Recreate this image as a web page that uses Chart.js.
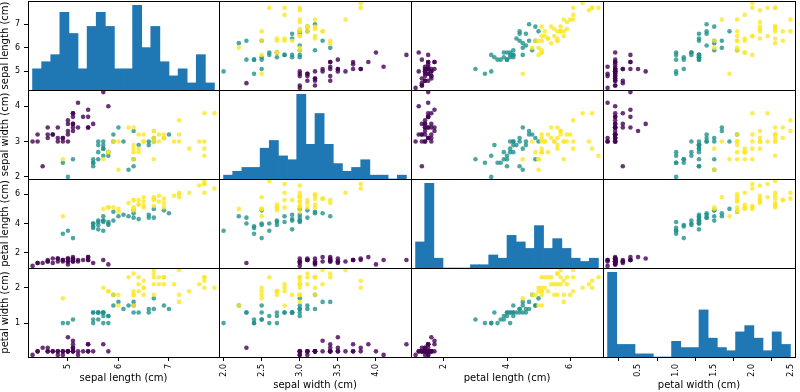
<!DOCTYPE html>
<html>
<head>
<meta charset="utf-8">
<script src="https://cdn.jsdelivr.net/npm/chart.js@4.4.1/dist/chart.umd.min.js"></script>
<style>
  html, body { margin: 0; padding: 0; background: #fff; }
  #grid { position: relative; width: 800px; height: 392px; overflow: hidden; }
  #grid canvas { position: absolute; }
</style>
</head>
<body>
<div id="grid"></div>
<script>
// iris training split (112 samples)
const featureNames = ['sepal length (cm)', 'sepal width (cm)', 'petal length (cm)', 'petal width (cm)'];

const sepalLength = [
  5.1, 4.9, 4.7, 4.6, 5.0, 5.4, 4.6, 4.9, 5.4, 4.8, 4.8, 4.3, 5.8, 5.7, 5.1, 5.1, 5.4, 5.1, 5.1, 5.0,
  5.2, 4.7, 4.8, 5.4, 5.2, 4.9, 5.0, 5.5, 4.4, 5.1, 4.5, 4.4, 5.0, 5.1, 4.6, 5.3, 5.0,
  7.0, 6.9, 5.5, 5.7, 6.3, 4.9, 6.6, 5.0, 5.9, 5.6, 6.7, 5.8, 6.2, 5.6, 5.9, 6.3, 6.4, 6.6, 6.7, 5.7,
  5.5, 5.5, 5.8, 6.0, 6.3, 5.6, 5.5, 6.1, 5.8, 5.6, 5.7, 5.7, 5.1, 5.7,
  5.8, 7.1, 6.3, 6.5, 7.6, 4.9, 6.7, 7.2, 6.5, 6.4, 6.8, 5.7, 6.4, 6.5, 7.7, 7.7, 6.0, 6.9, 7.7, 6.3,
  6.7, 7.2, 6.4, 7.2, 7.4, 7.9, 6.3, 7.7, 6.3, 6.0, 6.9, 6.7, 6.9, 5.8, 6.8, 6.7, 6.7, 6.3, 6.5, 6.2, 5.9
];
const sepalWidth = [
  3.5, 3.0, 3.2, 3.1, 3.6, 3.9, 3.4, 3.1, 3.7, 3.4, 3.0, 3.0, 4.0, 4.4, 3.5, 3.8, 3.4, 3.7, 3.3, 3.0,
  3.4, 3.2, 3.1, 3.4, 4.1, 3.1, 3.2, 3.5, 3.0, 3.4, 2.3, 3.2, 3.5, 3.8, 3.2, 3.7, 3.3,
  3.2, 3.1, 2.3, 2.8, 3.3, 2.4, 2.9, 2.0, 3.0, 2.9, 3.1, 2.7, 2.2, 2.5, 3.2, 2.5, 2.9, 3.0, 3.0, 2.6,
  2.4, 2.4, 2.7, 3.4, 2.3, 3.0, 2.5, 3.0, 2.6, 2.7, 3.0, 2.9, 2.5, 2.8,
  2.7, 3.0, 2.9, 3.0, 3.0, 2.5, 2.5, 3.6, 3.2, 2.7, 3.0, 2.5, 3.2, 3.0, 3.8, 2.6, 2.2, 3.2, 2.8, 2.7,
  3.3, 3.2, 2.8, 3.0, 2.8, 3.8, 2.8, 3.0, 3.4, 3.0, 3.1, 3.1, 3.1, 2.7, 3.2, 3.3, 3.0, 2.5, 3.0, 3.4, 3.0
];
const petalLength = [
  1.4, 1.4, 1.3, 1.5, 1.4, 1.7, 1.4, 1.5, 1.5, 1.6, 1.4, 1.1, 1.2, 1.5, 1.4, 1.5, 1.7, 1.5, 1.7, 1.6,
  1.4, 1.6, 1.6, 1.5, 1.5, 1.5, 1.2, 1.3, 1.3, 1.5, 1.3, 1.3, 1.6, 1.6, 1.4, 1.5, 1.4,
  4.7, 4.9, 4.0, 4.5, 4.7, 3.3, 4.6, 3.5, 4.2, 3.6, 4.4, 4.1, 4.5, 3.9, 4.8, 4.9, 4.3, 4.4, 5.0, 3.5,
  3.8, 3.7, 3.9, 4.5, 4.4, 4.1, 4.0, 4.6, 4.0, 4.2, 4.2, 4.2, 3.0, 4.1,
  5.1, 5.9, 5.6, 5.8, 6.6, 4.5, 5.8, 6.1, 5.1, 5.3, 5.5, 5.0, 5.3, 5.5, 6.7, 6.9, 5.0, 5.7, 6.7, 4.9,
  5.7, 6.0, 5.6, 5.8, 6.1, 6.4, 5.1, 6.1, 5.6, 4.8, 5.4, 5.6, 5.1, 5.1, 5.9, 5.7, 5.2, 5.0, 5.2, 5.4, 5.1
];
const petalWidth = [
  0.2, 0.2, 0.2, 0.2, 0.2, 0.4, 0.3, 0.1, 0.2, 0.2, 0.1, 0.1, 0.2, 0.4, 0.3, 0.3, 0.2, 0.4, 0.5, 0.2,
  0.2, 0.2, 0.2, 0.4, 0.1, 0.2, 0.2, 0.2, 0.2, 0.2, 0.3, 0.2, 0.6, 0.2, 0.2, 0.2, 0.2,
  1.4, 1.5, 1.3, 1.3, 1.6, 1.0, 1.3, 1.0, 1.5, 1.3, 1.4, 1.0, 1.5, 1.1, 1.8, 1.5, 1.3, 1.4, 1.7, 1.0,
  1.1, 1.0, 1.2, 1.6, 1.3, 1.3, 1.3, 1.4, 1.2, 1.3, 1.2, 1.3, 1.1, 1.3,
  1.9, 2.1, 1.8, 2.2, 2.1, 1.7, 1.8, 2.5, 2.0, 1.9, 2.1, 2.0, 2.3, 1.8, 2.2, 2.3, 1.5, 2.3, 2.0, 1.8,
  2.1, 1.8, 2.1, 1.6, 1.9, 2.0, 1.5, 2.3, 2.4, 1.8, 2.1, 2.4, 2.3, 1.9, 2.3, 2.5, 2.3, 1.9, 2.0, 2.3, 1.8
];
// class of each sample: 0 setosa, 1 versicolor, 2 virginica
const species = [].concat(Array(37).fill(0), Array(34).fill(1), Array(41).fill(2));

const xTickValues = [[5, 6, 7], [2.0, 2.5, 3.0, 3.5, 4.0], [2, 4, 6], [0.5, 1.0, 1.5, 2.0, 2.5]];
const yTickValues = [[5, 6, 7], [2, 3, 4], [2, 4, 6], [1, 2]];
const xTickDecimals = [0, 1, 0, 1];

const histBins = 20;
const rangePadding = 0.05;

const classColors = ['rgba(68,1,84,0.8)', 'rgba(33,145,140,0.8)', 'rgba(253,231,37,0.8)'];
const histColor = '#1f77b4';
const FONT = "'DejaVu Sans', sans-serif";

const features = [sepalLength, sepalWidth, petalLength, petalWidth];

// axis limits like pandas scatter_matrix: data range plus range_padding / 2 on each side
const limits = features.map(v => {
  const lo = Math.min(...v), hi = Math.max(...v);
  const ext = (hi - lo) * rangePadding / 2;
  return [lo - ext, hi + ext];
});

function histogram(values) {
  const lo = Math.min(...values), hi = Math.max(...values);
  const w = (hi - lo) / histBins;
  const counts = new Array(histBins).fill(0);
  values.forEach(v => {
    counts[Math.min(histBins - 1, Math.floor((v - lo) / w + 1e-9))]++;
  });
  return counts.map((n, i) => ({x: lo + (i + 0.5) * w, y: n}));
}

const framePlugin = {
  id: 'frame',
  afterDatasetsDraw(chart) {
    const {ctx, chartArea: a} = chart;
    ctx.save();
    ctx.strokeStyle = '#000';
    ctx.lineWidth = 1;
    ctx.strokeRect(a.left + 0.5, a.top + 0.5, a.right - a.left, a.bottom - a.top);
    ctx.restore();
  }
};

function xScale(col, row) {
  const show = row === 3;
  // the xlabel sits below the tick labels, so longer labels ("2.0") push it down
  const titleGap = xTickDecimals[col] ? 1 : 8;
  return {
    type: 'linear',
    position: 'bottom',
    min: limits[col][0],
    max: limits[col][1],
    offset: false,
    display: show,
    afterBuildTicks: s => { s.ticks = xTickValues[col].map(v => ({value: v})); },
    afterFit: s => {
      if (!show) return;
      s.height = 35; s.paddingLeft = 0; s.paddingRight = 0;
    },
    ticks: {
      includeBounds: false,
      autoSkip: false,
      minRotation: 90,
      maxRotation: 90,
      padding: 3,
      color: '#000',
      font: {family: FONT, size: 8},
      callback: v => Number(v).toFixed(xTickDecimals[col])
    },
    grid: {drawOnChartArea: false, tickLength: 4, color: '#000'},
    border: {display: false},
    title: {
      display: show,
      text: featureNames[col],
      color: '#000',
      font: {family: FONT, size: 10, lineHeight: 1.2},
      padding: {top: 0, bottom: titleGap}
    }
  };
}

function yScale(row, col) {
  const show = col === 0;
  return {
    type: 'linear',
    position: 'left',
    min: limits[row][0],
    max: limits[row][1],
    display: show,
    afterBuildTicks: s => { s.ticks = yTickValues[row].map(v => ({value: v})); },
    afterFit: s => {
      if (!show) return;
      s.width = 28; s.paddingTop = 0; s.paddingBottom = 0;
    },
    ticks: {
      includeBounds: false,
      autoSkip: false,
      padding: 4,
      color: '#000',
      font: {family: FONT, size: 8},
      callback: v => String(v)
    },
    grid: {drawOnChartArea: false, tickLength: 4, color: '#000'},
    border: {display: false},
    title: {
      display: show,
      text: featureNames[row],
      color: '#000',
      font: {family: FONT, size: 10, lineHeight: 1},
      padding: {top: 0, bottom: 0}
    }
  };
}

const colEdges = [28, 219, 411, 603, 795];
const rowEdges = [1, 90, 179, 268, 357];
const grid = document.getElementById('grid');

for (let r = 0; r < 4; r++) {
  for (let c = 0; c < 4; c++) {
    const left = colEdges[c] - (c === 0 ? 28 : 0);
    const top = rowEdges[r];
    const w = colEdges[c + 1] - colEdges[c] + 1 + (c === 0 ? 28 : 0);
    const h = rowEdges[r + 1] - rowEdges[r] + (r === 3 ? 35 : 1);

    const canvas = document.createElement('canvas');
    canvas.width = w;
    canvas.height = h;
    canvas.style.left = left + 'px';
    canvas.style.top = top + 'px';
    canvas.style.width = w + 'px';
    canvas.style.height = h + 'px';
    grid.appendChild(canvas);

    let config;
    if (r === c) {
      const bins = histogram(features[c]);
      const maxCount = Math.max(...bins.map(b => b.y));
      const scales = {
        x: xScale(c, r),
        yc: {type: 'linear', min: 0, max: maxCount * 1.05, display: false}
      };
      if (c === 0) scales.y = yScale(r, c);
      config = {
        type: 'bar',
        data: {
          datasets: [{
            data: bins,
            xAxisID: 'x',
            yAxisID: 'yc',
            backgroundColor: histColor,
            borderWidth: 0,
            barPercentage: 1,
            categoryPercentage: 1,
            grouped: false
          }]
        },
        options: {scales}
      };
    } else {
      const pts = features[c].map((v, i) => ({x: v, y: features[r][i]}));
      config = {
        type: 'scatter',
        data: {
          datasets: [{
            data: pts,
            pointRadius: 2.3,
            pointBorderWidth: 0,
            pointBackgroundColor: species.map(s => classColors[s]),
            showLine: false
          }]
        },
        options: {scales: {x: xScale(c, r), y: yScale(r, c)}}
      };
    }

    Object.assign(config.options, {
      responsive: false,
      maintainAspectRatio: false,
      animation: false,
      devicePixelRatio: 1,
      events: [],
      layout: {autoPadding: false, padding: {left: 0, top: 0, right: 1, bottom: r === 3 ? 0 : 1}},
      plugins: {legend: {display: false}, tooltip: {enabled: false}}
    });
    config.plugins = [framePlugin];

    new Chart(canvas.getContext('2d'), config);
  }
}
</script>
</body>
</html>
